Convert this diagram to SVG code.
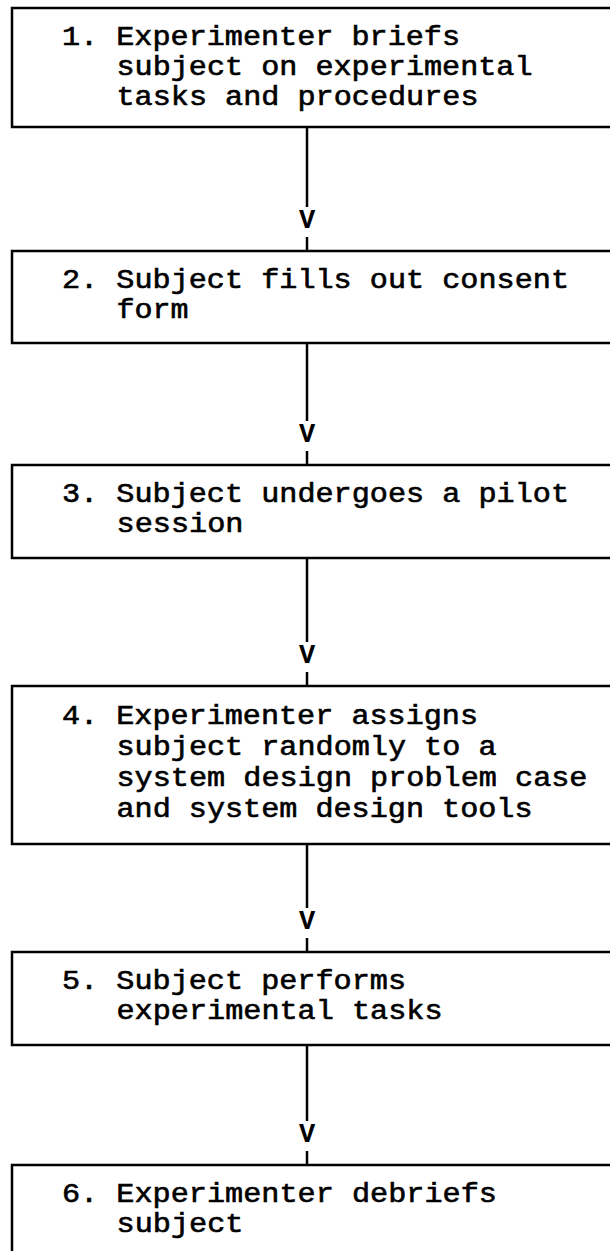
<svg xmlns="http://www.w3.org/2000/svg" width="610" height="1251" viewBox="0 0 610 1251">
  <style>
    .box { fill: #ffffff; stroke: #000000; stroke-width: 2.5; }
    .label { font-family: "Liberation Mono", "Courier New", monospace; font-size: 27px; fill: #000000; stroke: #000000; stroke-width: 0.6; }
    .wire { stroke: #000000; stroke-width: 2.5; fill: none; }
    .head { font-family: "Liberation Mono", "Courier New", monospace; font-size: 27px; font-weight: bold; fill: #000000; text-anchor: middle; }
  </style>
  <rect width="610" height="1251" fill="#ffffff"/>

  <g id="connectors">
    <!-- 1 -> 2 -->
    <line class="wire" x1="307" y1="127" x2="307" y2="207"/>
    <text class="head" x="307" y="228">V</text>
    <line class="wire" x1="307" y1="237" x2="307" y2="251"/>
    <!-- 2 -> 3 -->
    <line class="wire" x1="307" y1="343" x2="307" y2="421"/>
    <text class="head" x="307" y="442">V</text>
    <line class="wire" x1="307" y1="451" x2="307" y2="465"/>
    <!-- 3 -> 4 -->
    <line class="wire" x1="307" y1="558" x2="307" y2="642"/>
    <text class="head" x="307" y="663">V</text>
    <line class="wire" x1="307" y1="672" x2="307" y2="686"/>
    <!-- 4 -> 5 -->
    <line class="wire" x1="307" y1="844" x2="307" y2="908"/>
    <text class="head" x="307" y="929">V</text>
    <line class="wire" x1="307" y1="938" x2="307" y2="952"/>
    <!-- 5 -> 6 -->
    <line class="wire" x1="307" y1="1045" x2="307" y2="1121"/>
    <text class="head" x="307" y="1142">V</text>
    <line class="wire" x1="307" y1="1151" x2="307" y2="1165"/>
  </g>

  <g id="step1">
    <rect class="box" x="12" y="8" width="620" height="119"/>
    <text class="label" x="62" y="45" textLength="398" lengthAdjust="spacingAndGlyphs">1. Experimenter briefs</text>
    <text class="label" x="116.5" y="75" textLength="416" lengthAdjust="spacingAndGlyphs">subject on experimental</text>
    <text class="label" x="116.5" y="105" textLength="362" lengthAdjust="spacingAndGlyphs">tasks and procedures</text>
  </g>

  <g id="step2">
    <rect class="box" x="12" y="251" width="620" height="92"/>
    <text class="label" x="62" y="288" textLength="507" lengthAdjust="spacingAndGlyphs">2. Subject fills out consent</text>
    <text class="label" x="116.5" y="318" textLength="72" lengthAdjust="spacingAndGlyphs">form</text>
  </g>

  <g id="step3">
    <rect class="box" x="12" y="465" width="620" height="93"/>
    <text class="label" x="62" y="502" textLength="507" lengthAdjust="spacingAndGlyphs">3. Subject undergoes a pilot</text>
    <text class="label" x="116.5" y="532" textLength="127" lengthAdjust="spacingAndGlyphs">session</text>
  </g>

  <g id="step4">
    <rect class="box" x="12" y="686" width="620" height="158"/>
    <text class="label" x="62" y="724" textLength="416" lengthAdjust="spacingAndGlyphs">4. Experimenter assigns</text>
    <text class="label" x="116.5" y="755" textLength="380" lengthAdjust="spacingAndGlyphs">subject randomly to a</text>
    <text class="label" x="116.5" y="786" textLength="471" lengthAdjust="spacingAndGlyphs">system design problem case</text>
    <text class="label" x="116.5" y="817" textLength="416" lengthAdjust="spacingAndGlyphs">and system design tools</text>
  </g>

  <g id="step5">
    <rect class="box" x="12" y="952" width="620" height="93"/>
    <text class="label" x="62" y="989" textLength="344" lengthAdjust="spacingAndGlyphs">5. Subject performs</text>
    <text class="label" x="116.5" y="1019" textLength="326" lengthAdjust="spacingAndGlyphs">experimental tasks</text>
  </g>

  <g id="step6">
    <rect class="box" x="12" y="1165" width="620" height="120"/>
    <text class="label" x="62" y="1202" textLength="435" lengthAdjust="spacingAndGlyphs">6. Experimenter debriefs</text>
    <text class="label" x="116.5" y="1232" textLength="127" lengthAdjust="spacingAndGlyphs">subject</text>
  </g>
</svg>
